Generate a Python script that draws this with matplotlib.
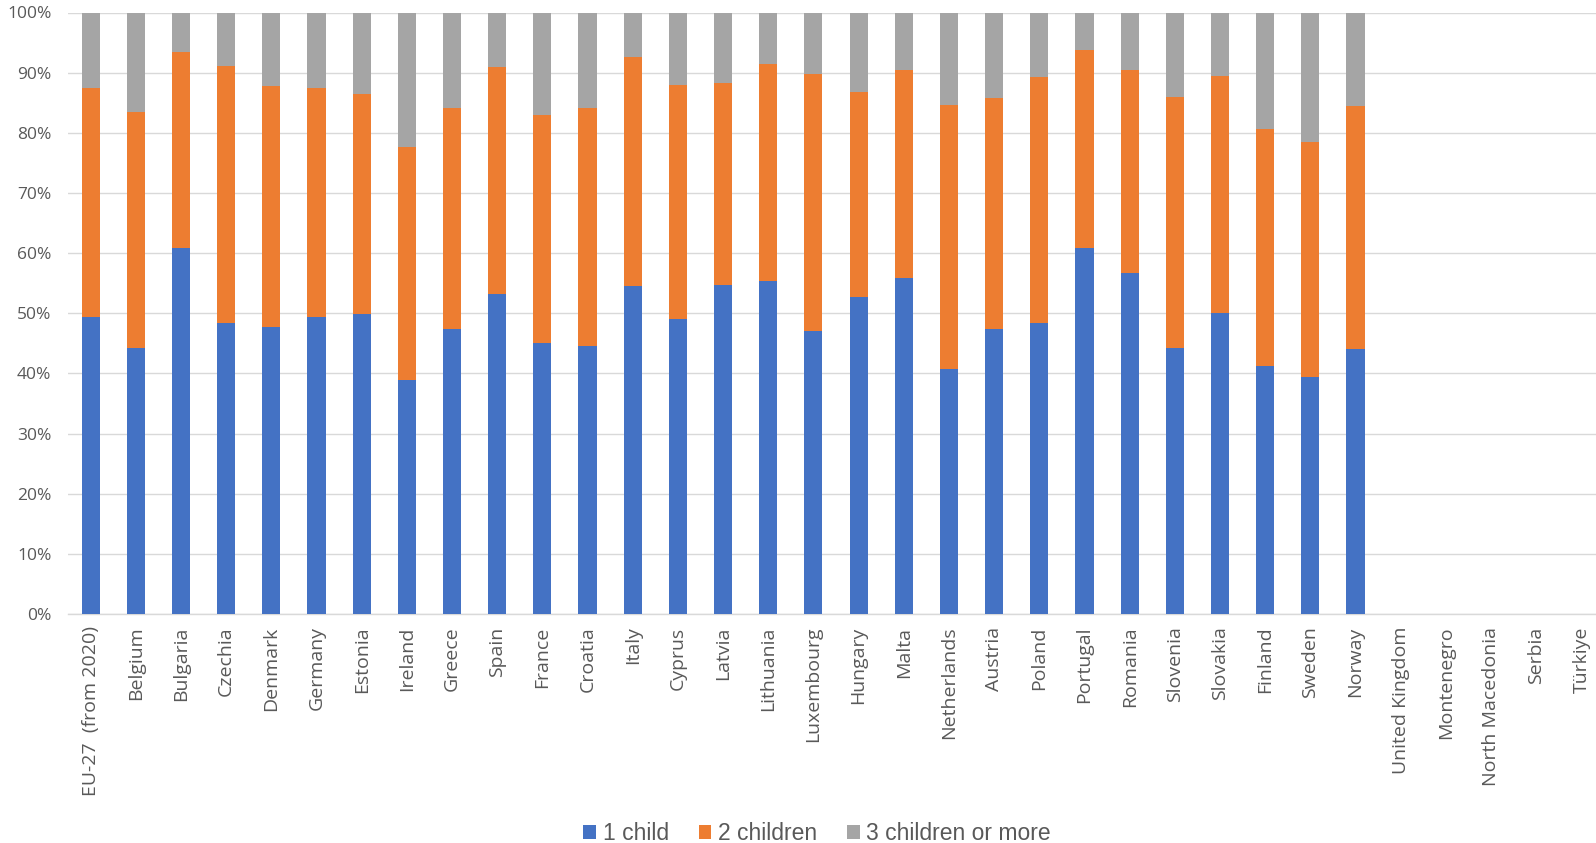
import matplotlib
matplotlib.use("Agg")
import matplotlib.pyplot as plt
import numpy as np
from matplotlib.ticker import PercentFormatter

countries = ["EU-27  (from 2020)", "Belgium", "Bulgaria", "Czechia", "Denmark", "Germany",
             "Estonia", "Ireland", "Greece", "Spain", "France", "Croatia", "Italy", "Cyprus",
             "Latvia", "Lithuania", "Luxembourg", "Hungary", "Malta", "Netherlands", "Austria",
             "Poland", "Portugal", "Romania", "Slovenia", "Slovakia", "Finland", "Sweden",
             "Norway", "United Kingdom", "Montenegro", "North Macedonia", "Serbia", "Türkiye"]

one_child = [49.4, 44.3, 60.8, 48.3, 47.7, 49.4, 49.8, 38.9, 47.3, 53.2, 45.1, 44.6, 54.6, 49.0,
             54.7, 55.3, 47.1, 52.7, 55.9, 40.7, 47.4, 48.4, 60.8, 56.7, 44.3, 50.0, 41.3, 39.4,
             44.0, 0, 0, 0, 0, 0]
cum_two = [87.5, 83.5, 93.5, 91.1, 87.8, 87.5, 86.5, 77.7, 84.2, 91.0, 82.9, 84.1, 92.6, 88.0,
           88.2, 91.5, 89.8, 86.8, 90.5, 84.6, 85.8, 89.2, 93.7, 90.4, 86.0, 89.5, 80.7, 78.4,
           84.4, 0, 0, 0, 0, 0]
has_data = [1] * 29 + [0] * 5

two_children = [c - o if h else 0 for c, o, h in zip(cum_two, one_child, has_data)]
three_more = [100 - c if h else 0 for c, h in zip(cum_two, has_data)]

blue, orange, grey = "#4472C4", "#ED7D31", "#A5A5A5"

fig = plt.figure(figsize=(15.96, 8.43), dpi=100)
ax = fig.add_axes([68 / 1596, 1 - 614 / 843, (1604 - 68) / 1596, (614 - 12.5) / 843])

x = np.arange(len(countries))
w = 0.4
ax.bar(x, one_child, w, color=blue, label="1 child", zorder=3)
ax.bar(x, two_children, w, bottom=one_child, color=orange, label="2 children", zorder=3)
bottom3 = [a + b for a, b in zip(one_child, two_children)]
ax.bar(x, three_more, w, bottom=bottom3, color=grey, label="3 children or more", zorder=3)

ax.set_xlim(-0.5, len(countries) - 0.5)
ax.set_ylim(0, 100)
ax.set_yticks(np.arange(0, 101, 10))
ax.yaxis.set_major_formatter(PercentFormatter(decimals=0))
ax.grid(axis="y", color="#D9D9D9", linewidth=1, zorder=0)
for s in ["top", "right", "left"]:
    ax.spines[s].set_visible(False)
ax.spines["bottom"].set_color("#D9D9D9")
ax.spines["bottom"].set_linewidth(1)
ax.tick_params(axis="y", length=0, labelsize=12.5, labelcolor="#595959", pad=12)
ax.tick_params(axis="x", length=0, pad=9)
ax.set_xticks(x)
ax.set_xticklabels(countries, rotation=90, fontsize=14, color="#595959", family="Open Sans")
for lbl in ax.get_yticklabels():
    lbl.set_family("Open Sans")

leg = fig.legend(loc="center", bbox_to_anchor=(0.512, 1 - 834 / 843),
                 ncol=3, frameon=False, fontsize=16.5, handlelength=0.55, handleheight=0.55,
                 handletextpad=0.3, columnspacing=1.3, labelcolor="#595959")
for t in leg.get_texts():
    t.set_family("Liberation Sans")

fig.savefig("out.png", dpi=100)
